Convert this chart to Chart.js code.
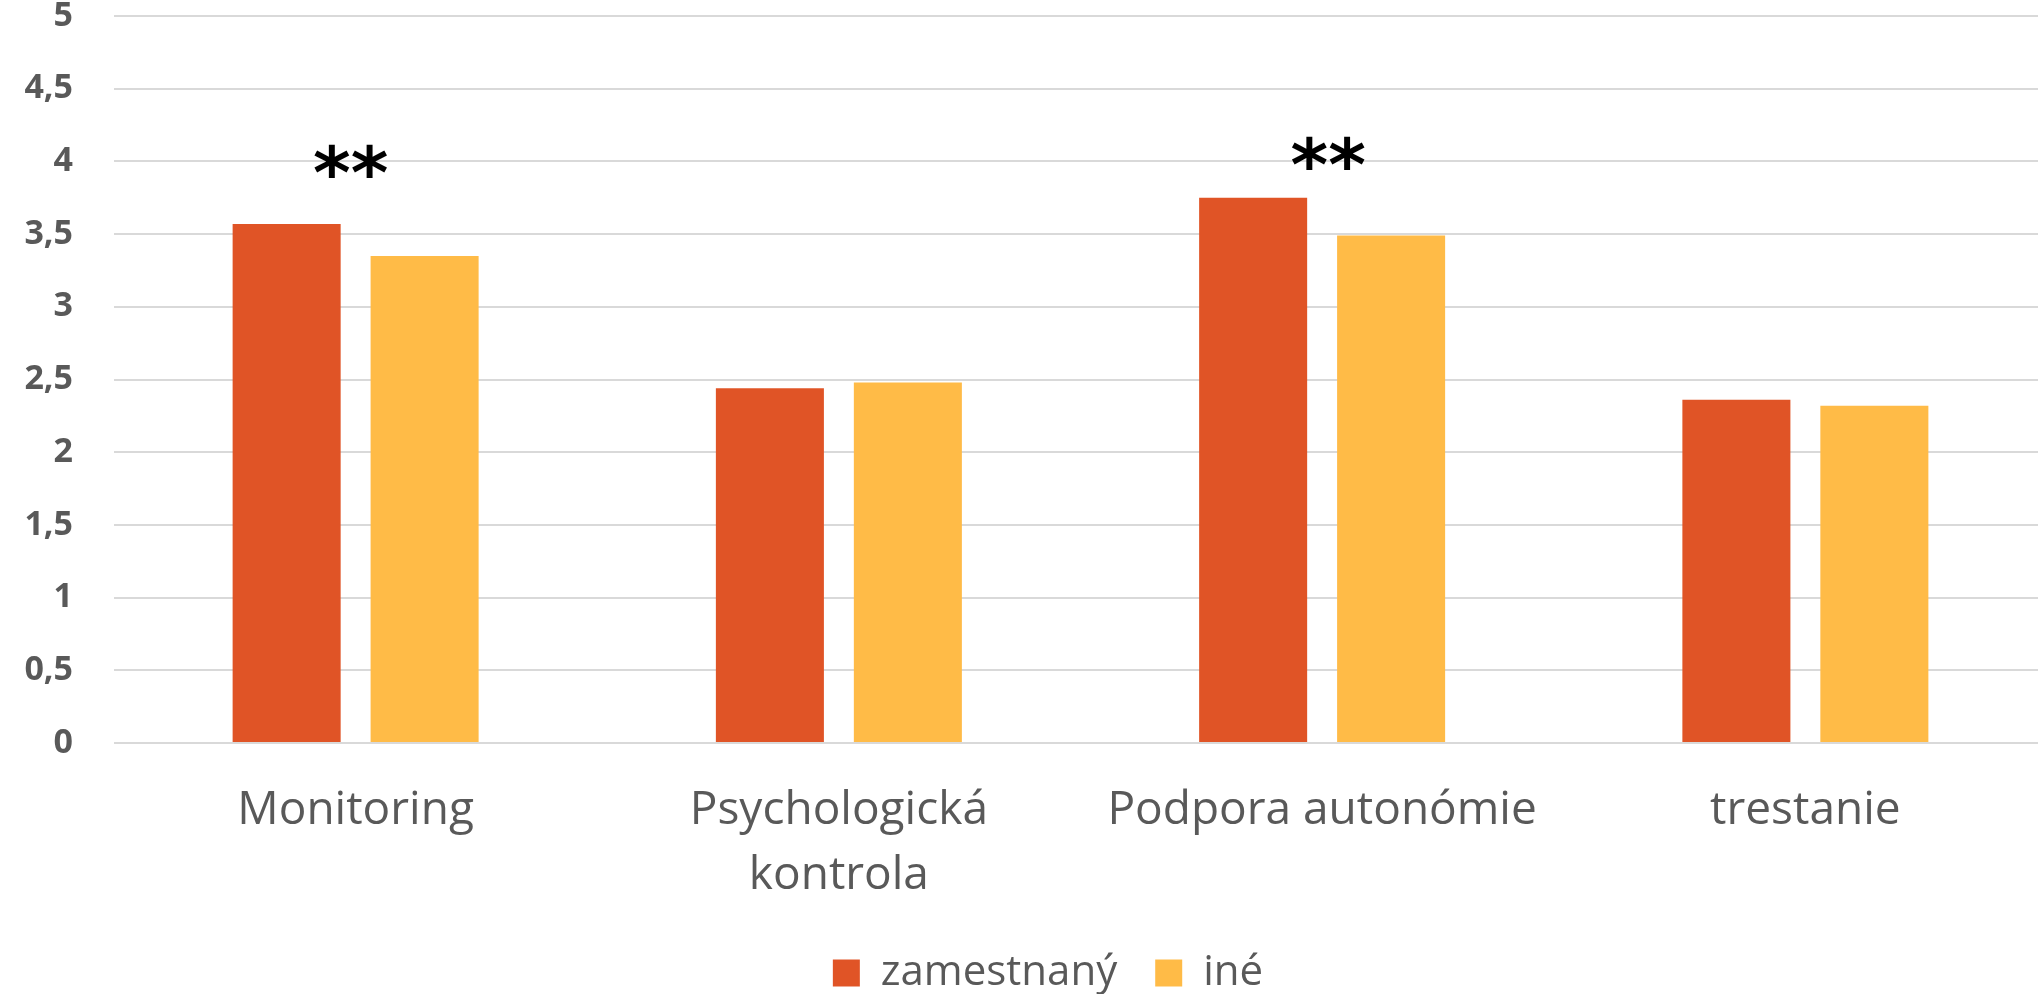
<!DOCTYPE html>
<html>
<head>
<meta charset="utf-8">
<script src="https://cdn.jsdelivr.net/npm/chart.js@4.4.1/dist/chart.umd.min.js"></script>
<style>
  html, body { margin: 0; padding: 0; background: #fff; }
  #wrap { width: 2038px; height: 994px; }
</style>
</head>
<body>
<div id="wrap"><canvas id="parentingChart"></canvas></div>
<script>
// data
const categories = ['Monitoring', ['Psychologická', 'kontrola'], 'Podpora autonómie', 'trestanie'];
const zamestnany = [3.57, 2.44, 3.75, 2.36];
const ine = [3.35, 2.48, 3.49, 2.32];
const significance = ['**', '', '**', ''];
const yTicks = [0, 0.5, 1, 1.5, 2, 2.5, 3, 3.5, 4, 4.5, 5];

const textGrey = '#595959';

// draws the ** marks above the groups
const starsPlugin = {
  id: 'stars',
  afterDatasetsDraw(chart, args, opts) {
    const ctx = chart.ctx;
    const x = chart.scales.x;
    const y = chart.scales.y;
    ctx.save();
    ctx.font = 'bold 72px "DejaVu Sans"';
    ctx.fillStyle = '#000';
    ctx.textAlign = 'center';
    ctx.textBaseline = 'alphabetic';
    significance.forEach((s, i) => {
      if (!s) return;
      const dx = (opts.dx && opts.dx[i]) || 0;
      const dy = (opts.dy && opts.dy[i]) || 0;
      ctx.fillText(s, x.getPixelForValue(i) + dx, y.getPixelForValue(opts.level) + 37 + dy);
    });
    ctx.restore();
  }
};

// the original plot runs a little past the right edge: stretch the x scale,
// and nudge the legend a bit to the right
const layoutTweaks = {
  id: 'layoutTweaks',
  afterLayout(chart, args, opts) {
    const x = chart.scales.x;
    x.right += opts.extendRight;
    x.width += opts.extendRight;
    x.configure();
    chart.legend.left += opts.legendDx;
    chart.legend.right += opts.legendDx;
  }
};

const ctx = document.getElementById('parentingChart').getContext('2d');
new Chart(ctx, {
  type: 'bar',
  data: {
    labels: categories,
    datasets: [
      {
        label: 'zamestnaný',
        data: zamestnany,
        backgroundColor: '#E05426',
        categoryPercentage: 0.571,
        barPercentage: 0.783
      },
      {
        label: 'iné',
        data: ine,
        backgroundColor: '#FFBB47',
        categoryPercentage: 0.571,
        barPercentage: 0.783
      }
    ]
  },
  options: {
    responsive: true,
    maintainAspectRatio: false,
    animation: false,
    layout: { padding: { top: 16, right: 0, bottom: -10, left: 0 } },
    plugins: {
      tooltip: { enabled: false },
      stars: { level: 4, dx: [-5, 0, 6, 0], dy: [0, 0, -8, 0] },
      layoutTweaks: { extendRight: 9, legendDx: 29 },
      legend: {
        position: 'bottom',
        labels: {
          boxWidth: 27,
          boxHeight: 27,
          padding: 38,
          color: textGrey,
          font: { family: '"Open Sans"', size: 42 }
        }
      }
    },
    scales: {
      x: {
        grid: { display: false, drawTicks: false },
        border: { display: false },
        ticks: {
          color: textGrey,
          padding: 36,
          maxRotation: 0,
          autoSkip: false,
          font: { family: '"Open Sans"', size: 46, lineHeight: 1.4 }
        },
        afterFit(scale) {
          scale.height = 171;
          scale.paddingLeft = 0;
          scale.paddingRight = 0;
        }
      },
      y: {
        min: 0,
        max: 5,
        afterBuildTicks(scale) {
          scale.ticks = yTicks.map(v => ({ value: v }));
        },
        grid: { color: '#D9D9D9', lineWidth: 2, drawTicks: false },
        border: { display: false },
        ticks: {
          color: textGrey,
          padding: 41,
          font: { family: '"Open Sans"', size: 34, weight: 'bold' },
          callback: value => String(value).replace('.', ',')
        },
        afterFit(scale) {
          scale.width = 114;
          scale.paddingTop = 0;
          scale.paddingBottom = 0;
        }
      }
    }
  },
  plugins: [starsPlugin, layoutTweaks]
});
</script>
</body>
</html>
